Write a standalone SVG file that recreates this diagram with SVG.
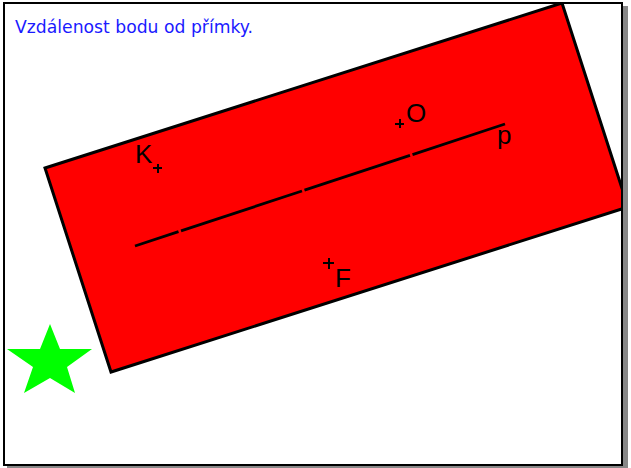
<svg xmlns="http://www.w3.org/2000/svg" width="631" height="468" viewBox="0 0 631 468">
<defs>
<style>
.lbl{font-family:"Liberation Sans",Arial,sans-serif;font-size:26px;fill:#000}
.ln{stroke:#000;stroke-width:2.8;fill:none;stroke-linecap:butt}
.cr{stroke:#000;stroke-width:2;fill:none}
</style>
<clipPath id="frameClip"><rect x="5" y="4" width="617" height="460"/></clipPath>
</defs>
<rect x="0" y="0" width="631" height="468" fill="#fff"/>
<rect x="623" y="6" width="5" height="462" fill="#888"/>
<rect x="7" y="466" width="621" height="2" fill="#888"/>
<g id="rectangle" clip-path="url(#frameClip)">
<polygon points="45,168 562,3 628,207 111,372" fill="#ff0000" stroke="#000" stroke-width="3" stroke-linejoin="miter"/>
</g>
<rect x="4" y="3" width="618" height="462" fill="none" stroke="#000" stroke-width="2"/>
<text id="title" x="15" y="33" font-family="'Comic Sans MS','DejaVu Sans',sans-serif" font-size="17.5" fill="#1a1aff" textLength="238" lengthAdjust="spacingAndGlyphs">Vzdálenost bodu od přímky.</text>
<g id="connectors">
<g id="line-p">
<line class="ln" x1="135" y1="246" x2="178.5" y2="231.7"/>
<line class="ln" x1="181" y1="230.9" x2="302" y2="191"/>
<line class="ln" x1="304.5" y1="190.2" x2="410" y2="155.4"/>
<line class="ln" x1="412.5" y1="154.6" x2="505" y2="124"/>
</g>
</g>
<g id="point-K">
<path class="cr" d="M153,168 h9 M158,164 v9"/>
<text class="lbl" x="135" y="163">K</text>
</g>
<g id="point-O">
<path class="cr" d="M395,124 h9 M400,119 v9"/>
<text class="lbl" x="406" y="121.5">O</text>
</g>
<g id="point-F">
<path class="cr" d="M323,263 h11 M329,258 v11"/>
<text class="lbl" x="335" y="287">F</text>
</g>
<g id="label-p">
<text class="lbl" x="497" y="144">p</text>
</g>
<g id="star">
<polygon points="50,324 60,349 92,349 67,367 75,393 50,378 24,393 33,367 7,349 40,349" fill="#00ff00"/>
</g>
</svg>
